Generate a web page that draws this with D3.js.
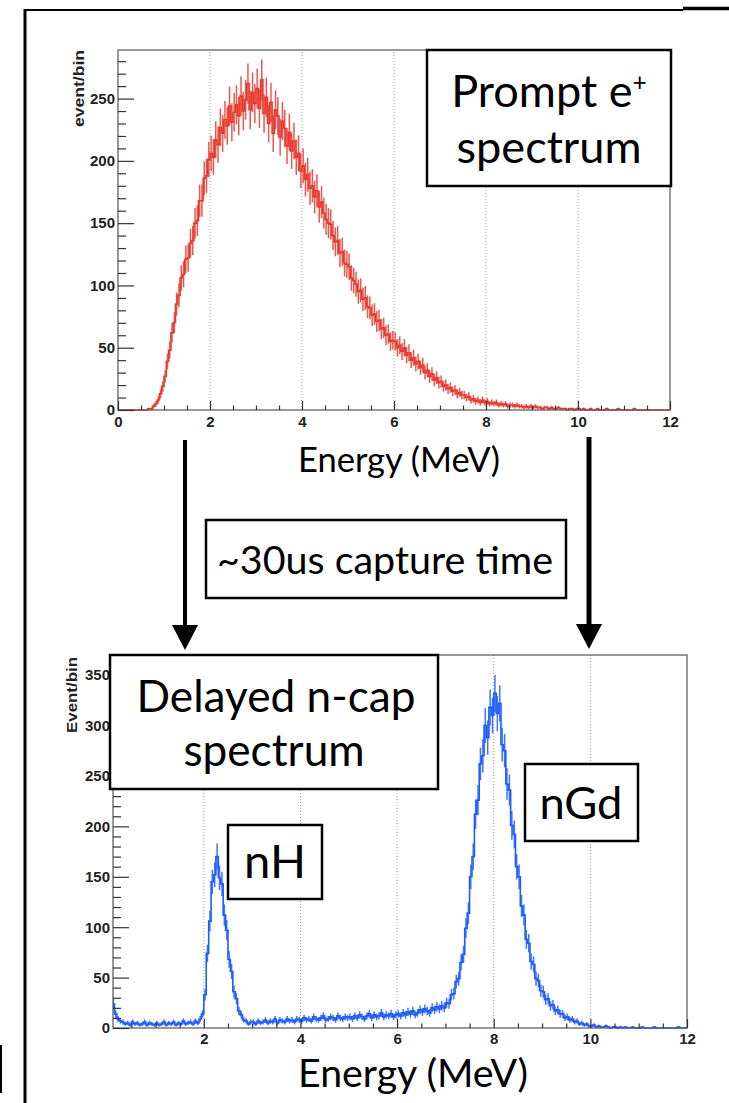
<!DOCTYPE html>
<html>
<head>
<meta charset="utf-8">
<script src="https://cdn.jsdelivr.net/npm/d3@7"></script>
<style>
body { margin: 0; background: #fff; }
svg { display: block; }
.tick text { font-family: "Liberation Sans", Arial, sans-serif; font-weight: bold; font-size: 15px; fill: #222; }
.tick line { stroke: #333; stroke-width: 1.2; }
.big { font-family: Lato, "Open Sans", sans-serif; fill: #000; }
.ytitle { font-family: "Liberation Sans", Arial, sans-serif; font-weight: bold; font-size: 14px; fill: #222; }
</style>
</head>
<body>
<div id="chart"></div>
<script>
// histogram bins are 0.05 MeV wide, starting at 0 MeV
var binWidth = 0.05;

// prompt e+ spectrum (event/bin), 0 - 12 MeV
var promptCounts = [
  0,0,0,0,0,0,0,0,0,0,0,0,0,1,1,3,5,8,13,19,
  27,39,48,62,70,85,92,106,109,121,122,134,136,150,152,168,168,186,188,201,
  206,203,217,213,227,222,233,228,244,231,239,245,236,252,240,249,262,241,255,246,
  258,242,265,238,251,230,247,222,241,236,219,232,226,212,223,208,216,203,206,192,
  196,185,189,178,180,171,176,163,167,158,153,150,149,140,135,136,126,127,118,117,
  115,106,104,101,95,96,89,90,83,82,76,77,71,72,65,66,60,61,55,56,
  55,50,52,47,50,44,46,40,42,37,39,34,36,30,32,27,29,24,26,22,
  23,19,20,17,18,15,16,13,14,12,12,10,11,8,9,7,8,6,8,6,
  7,5,6,5,6,4,5,4,5,3,4,4,3,4,3,3,2,3,2,3,
  2,3,2,2,1,2,2,1,2,1,1,2,1,1,1,0,1,1,0,1,
  1,0,1,0,0,1,0,0,1,0,0,0,1,0,0,0,0,1,0,0,
  0,0,0,0,1,0,0,0,0,0,0,0,0,0,0,0,0,0,0,0
];

// delayed n-capture spectrum (Event/bin), 0 - 12 MeV
var delayedCounts = [
  30,28,24,14,9,7,6,4,5,3,6,4,5,3,4,6,3,5,4,3,
  5,3,4,6,3,5,4,6,3,5,4,7,4,5,6,4,7,5,9,14,
  33,74,106,145,152,170,149,143,112,97,68,56,36,29,17,13,8,7,4,6,
  6,4,7,5,6,8,5,7,6,9,5,8,7,6,9,7,8,6,9,8,
  7,10,8,9,7,11,9,8,10,12,8,9,11,10,8,12,10,9,11,10,
  11,9,12,10,13,11,9,12,14,10,13,11,12,15,11,13,12,14,11,13,
  14,12,15,13,16,14,17,13,15,18,16,19,17,15,20,18,21,19,22,20,
  25,24,33,34,46,49,65,73,99,114,150,170,212,226,262,270,300,288,318,310,
  332,312,322,281,275,242,236,201,192,160,150,121,112,88,84,66,63,49,47,37,
  36,28,29,22,23,17,18,14,14,10,11,8,9,6,7,4,5,3,4,2,
  2,3,1,2,1,1,2,1,0,1,1,0,1,0,1,0,0,1,0,0,
  0,1,0,0,0,0,1,0,0,0,0,0,0,0,0,0,1,0,0,0
];

var promptXTicks = [0, 2, 4, 6, 8, 10, 12];
var delayedXTicks = [2, 4, 6, 8, 10, 12];
var promptYTicks = [0, 50, 100, 150, 200, 250];
var delayedYTicks = [0, 50, 100, 150, 200, 250, 300, 350];
var gridEnergies = [2, 4, 6, 8, 10];

var svg = d3.select("#chart").append("svg")
    .attr("width", 729)
    .attr("height", 1103);

// slide frame bits
svg.append("line").attr("x1", 24).attr("y1", 10).attr("x2", 683).attr("y2", 10)
    .attr("stroke", "#000").attr("stroke-width", 2);
svg.append("line").attr("x1", 683).attr("y1", 8.5).attr("x2", 729).attr("y2", 8.5)
    .attr("stroke", "#000").attr("stroke-width", 3.5);
svg.append("line").attr("x1", 25).attr("y1", 9).attr("x2", 25).attr("y2", 1103)
    .attr("stroke", "#000").attr("stroke-width", 3);
svg.append("line").attr("x1", 1).attr("y1", 1045).attr("x2", 1).attr("y2", 1093)
    .attr("stroke", "#000").attr("stroke-width", 2);

var panels = [
  {
    id: "prompt",
    x: d3.scaleLinear().domain([0, 12]).range([118, 670]),
    y: d3.scaleLinear().domain([0, 289]).range([410, 50]),
    counts: promptCounts,
    color: "#e8392f",
    xTicks: promptXTicks,
    yTicks: promptYTicks,
    xPad: 6,
    yTitle: "event/bin",
    yTitleX: 84, yTitleY: 50, yTitleLen: 77
  },
  {
    id: "delayed",
    x: d3.scaleLinear().domain([0.12, 12]).range([113, 687]),
    y: d3.scaleLinear().domain([0, 370]).range([1028, 655]),
    counts: delayedCounts,
    color: "#1b5cff",
    xTicks: delayedXTicks,
    yTicks: delayedYTicks,
    xPad: 5,
    yTitle: "Event/bin",
    yTitleX: 77, yTitleY: 657, yTitleLen: 76
  }
];

panels.forEach(drawPanel);

function drawPanel(p) {
  var x0 = p.x.range()[0], x1 = p.x.range()[1];
  var y0 = p.y.range()[0], y1 = p.y.range()[1];
  var g = svg.append("g");

  // dotted vertical grid
  g.selectAll("line.grid")
      .data(gridEnergies)
      .enter().append("line")
      .attr("class", "grid")
      .attr("x1", function(d) { return p.x(d); })
      .attr("x2", function(d) { return p.x(d); })
      .attr("y1", y0)
      .attr("y2", y1)
      .attr("stroke", "#999")
      .attr("stroke-width", 1)
      .attr("stroke-dasharray", "1,2");

  g.append("clipPath").attr("id", "clip-" + p.id)
      .append("rect")
      .attr("x", x0).attr("y", y1 - 2)
      .attr("width", x1 - x0).attr("height", y0 - y1 + 3);

  var h = g.append("g").attr("clip-path", "url(#clip-" + p.id + ")");

  // step outline of histogram
  var pts = p.counts.map(function(v, i) { return [i * binWidth, v]; });
  pts.push([p.counts.length * binWidth, p.counts[p.counts.length - 1]]);
  var line = d3.line()
      .x(function(d) { return p.x(d[0]); })
      .y(function(d) { return p.y(d[1]); })
      .curve(d3.curveStepAfter);

  h.append("path")
      .datum(pts)
      .attr("d", line)
      .attr("fill", "none")
      .attr("stroke", p.color)
      .attr("stroke-width", 1.6);

  // statistical error bars
  h.selectAll("line.err")
      .data(p.counts.map(function(v, i) { return {e: (i + 0.5) * binWidth, v: v}; })
          .filter(function(d) { return d.v > 0; }))
      .enter().append("line")
      .attr("class", "err")
      .attr("x1", function(d) { return p.x(d.e); })
      .attr("x2", function(d) { return p.x(d.e); })
      .attr("y1", function(d) { return p.y(d.v - Math.sqrt(d.v)); })
      .attr("y2", function(d) { return p.y(d.v + Math.sqrt(d.v)); })
      .attr("stroke", p.color)
      .attr("stroke-opacity", 0.85)
      .attr("stroke-width", 1.5);

  // frame
  g.append("rect")
      .attr("x", x0).attr("y", y1)
      .attr("width", x1 - x0).attr("height", y0 - y1)
      .attr("fill", "none")
      .attr("stroke", "#555")
      .attr("stroke-width", 1.2);

  // axes, ROOT style ticks pointing inward
  var minorX = d3.range(0.5, 12, 0.5).filter(function(d) { return d % 2 !== 0 && d > p.x.domain()[0]; });
  var minorY = d3.range(10, p.y.domain()[1], 10).filter(function(d) { return d % 50 !== 0; });

  g.append("g")
      .attr("transform", "translate(0," + y0 + ")")
      .call(d3.axisBottom(p.x).tickValues(minorX).tickSize(-4.5).tickFormat(""))
      .call(function(a) { a.select(".domain").remove(); });
  g.append("g")
      .attr("transform", "translate(0," + y0 + ")")
      .call(d3.axisBottom(p.x).tickValues(p.xTicks).tickSize(-9).tickPadding(p.xPad).tickFormat(d3.format("d")))
      .call(function(a) { a.select(".domain").remove(); });

  g.append("g")
      .attr("transform", "translate(" + x0 + ",0)")
      .call(d3.axisLeft(p.y).tickValues(minorY).tickSize(-8).tickFormat(""))
      .call(function(a) { a.select(".domain").remove(); });
  g.append("g")
      .attr("transform", "translate(" + x0 + ",0)")
      .call(d3.axisLeft(p.y).tickValues(p.yTicks).tickSize(-16).tickPadding(3).tickFormat(d3.format("d")))
      .call(function(a) { a.select(".domain").remove(); });

  svg.append("text")
      .attr("class", "ytitle")
      .attr("transform", "translate(" + p.yTitleX + "," + p.yTitleY + ") rotate(-90)")
      .attr("text-anchor", "end")
      .attr("textLength", p.yTitleLen)
      .attr("lengthAdjust", "spacingAndGlyphs")
      .text(p.yTitle);
}

// scale font so the text spans the wanted width
function fitText(sel, target) {
  var fs = parseFloat(sel.attr("font-size"));
  var len = sel.node().getComputedTextLength();
  var nfs = fs * target / len;
  sel.attr("font-size", nfs);
  return nfs;
}

function bigText(x, y, str, size) {
  return svg.append("text")
      .attr("class", "big")
      .attr("x", x).attr("y", y)
      .attr("text-anchor", "middle")
      .attr("font-size", size)
      .text(str);
}

function box(x, y, w, h) {
  svg.append("rect")
      .attr("x", x).attr("y", y)
      .attr("width", w).attr("height", h)
      .attr("fill", "#fff")
      .attr("stroke", "#000")
      .attr("stroke-width", 2.5);
}

// axis titles
fitText(bigText(399, 472, "Energy (MeV)", 28), 202);
fitText(bigText(413, 1087, "Energy (MeV)", 34), 230);

// arrows between the panels
function arrow(x, yTop, yTip, w) {
  svg.append("line")
      .attr("x1", x).attr("y1", yTop)
      .attr("x2", x).attr("y2", yTip - 20)
      .attr("stroke", "#000").attr("stroke-width", w);
  svg.append("path")
      .attr("d", "M" + (x - 13) + "," + (yTip - 25) + "L" + (x + 13) + "," + (yTip - 25) + "L" + x + "," + yTip + "Z")
      .attr("fill", "#000");
}
arrow(185, 440, 650, 4);
arrow(589, 437, 649, 5);

// labels in boxes
box(427, 50, 244, 136);
var fsP = fitText(bigText(549, 163, "spectrum", 46), 185);
var l1 = bigText(549, 107, "Prompt e", fsP);
l1.append("tspan")
    .attr("font-size", fsP * 0.55)
    .attr("dy", -fsP * 0.36)
    .text("+");

box(206, 520, 360, 78);
fitText(bigText(385, 574, "~30us capture time", 32), 336);

box(110, 655, 328, 134);
var fsD = fitText(bigText(276, 712, "Delayed n-cap", 38), 279);
bigText(274, 766, "spectrum", fsD);

box(228, 825, 94, 74);
fitText(bigText(275, 878, "nH", 46), 62);

box(525, 764, 113, 77);
fitText(bigText(581, 819, "nGd", 46), 83);
</script>
</body>
</html>
